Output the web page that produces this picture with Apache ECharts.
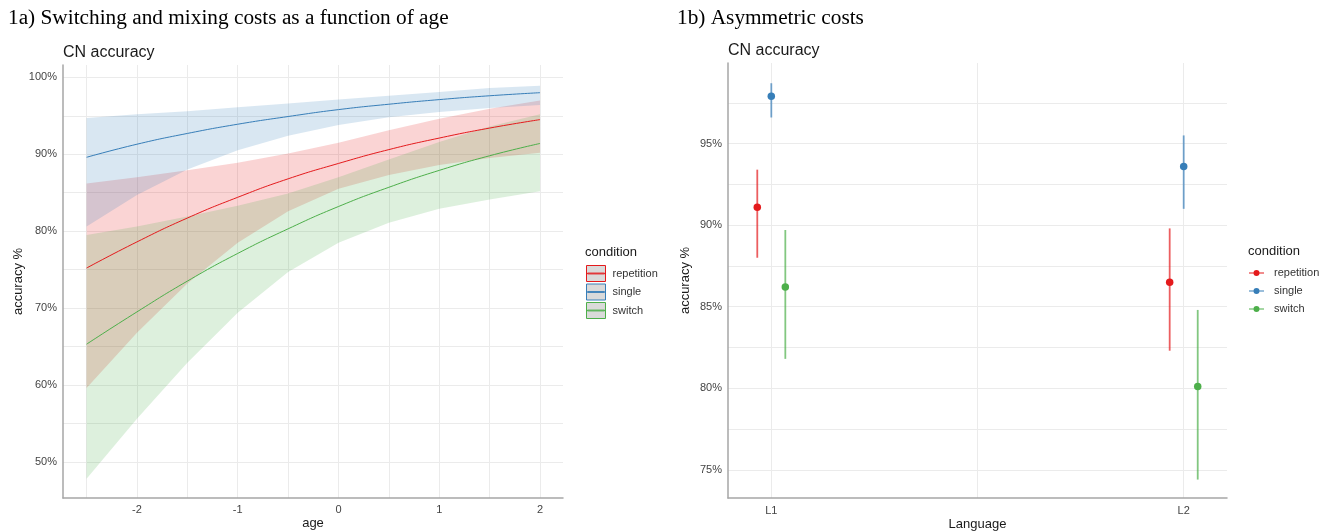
<!DOCTYPE html>
<html>
<head>
<meta charset="utf-8">
<script src="https://cdn.jsdelivr.net/npm/echarts@6/dist/echarts.min.js"></script>
<style>
html,body{margin:0;padding:0;background:#fff;}
#chart{width:1329px;height:532px;}
</style>
</head>
<body>
<div id="chart"></div>
<script>
// ---------- data: panel 1a (model fit by age) ----------
const conditions = ['repetition', 'single', 'switch'];
const ages = [-2.5, -2, -1.5, -1, -0.5, 0, 0.5, 1, 1.5, 2];
const ageTicks = [-2.5, -2, -1.5, -1, -0.5, 0, 0.5, 1, 1.5, 2];
const ageLabels = [-2, -1, 0, 1, 2];
const accTicks = [50, 55, 60, 65, 70, 75, 80, 85, 90, 95, 100];
const accLabels = [50, 60, 70, 80, 90, 100];

const repetitionFit  = [75.2, 78.6, 81.7, 84.4, 86.8, 88.8, 90.6, 92.1, 93.4, 94.5];
const repetitionLow  = [59.6, 66.8, 73.2, 78.5, 82.6, 85.5, 87.3, 88.6, 89.5, 90.2];
const repetitionHigh = [86.2, 87.0, 87.9, 88.9, 90.1, 91.5, 93.1, 94.6, 95.9, 97.0];
const singleFit  = [89.6, 91.3, 92.7, 93.9, 94.9, 95.8, 96.5, 97.1, 97.6, 98.0];
const singleLow  = [80.6, 84.7, 88.0, 90.5, 92.4, 93.8, 94.8, 95.5, 96.0, 96.4];
const singleHigh = [94.7, 95.2, 95.6, 96.1, 96.6, 97.1, 97.6, 98.1, 98.6, 98.9];
const switchFit  = [65.3, 69.5, 73.5, 77.1, 80.3, 83.2, 85.7, 87.9, 89.8, 91.4];
const switchLow  = [47.8, 55.6, 62.9, 69.4, 74.7, 78.5, 81.1, 82.9, 84.1, 85.2];
const switchHigh = [79.5, 80.6, 81.9, 83.3, 84.9, 87.0, 89.3, 91.6, 93.6, 95.2];

// ---------- data: panel 1b (by language) ----------
const languages = ['L1', 'L2'];
const langTicks = [1, 1.5, 2];
const langLabels = [1, 2];
const acc2Ticks = [75, 77.5, 80, 82.5, 85, 87.5, 90, 92.5, 95, 97.5];
const acc2Labels = [75, 80, 85, 90, 95];
const repetitionMean = [91.1, 86.5];
const repetitionLo   = [88.0, 82.3];
const repetitionHi   = [93.4, 89.8];
const singleMean = [97.9, 93.6];
const singleLo   = [96.6, 91.0];
const singleHi   = [98.7, 95.5];
const switchMean = [86.2, 80.1];
const switchLo   = [81.8, 74.4];
const switchHi   = [89.7, 84.8];

// ---------- styling ----------
const colors = ['#e41a1c', '#377eb8', '#4daf4a'];
const FONT = '"Liberation Sans", Arial, sans-serif';
const fits  = [repetitionFit, singleFit, switchFit];
const lows  = [repetitionLow, singleLow, switchLow];
const highs = [repetitionHigh, singleHigh, switchHigh];
const means = [repetitionMean, singleMean, switchMean];
const los   = [repetitionLo, singleLo, switchLo];
const his   = [repetitionHi, singleHi, switchHi];
const dodge = [-0.034, 0, 0.034];

function rgba(hex, a) {
  const n = parseInt(hex.slice(1), 16);
  return 'rgba(' + ((n >> 16) & 255) + ',' + ((n >> 8) & 255) + ',' + (n & 255) + ',' + a + ')';
}

const gridLine = { show: true, lineStyle: { color: '#ebebeb', width: 1 } };
const axLine = { show: true, onZero: false, lineStyle: { color: '#a6a6a6', width: 1.5 } };
const labelStyle = { color: '#444', fontSize: 11, fontFamily: FONT };

const series = [];
// bands
conditions.forEach(function (c, k) {
  const lo = lows[k], hi = highs[k];
  series.push({
    type: 'custom', name: c, xAxisIndex: 0, yAxisIndex: 0, silent: true, z: 1,
    data: ages.map(function (x, i) { return [x, lo[i], hi[i]]; }),
    encode: { x: 0, y: [1, 2] },
    renderItem: function (params, api) {
      if (params.dataIndex !== 0) return null;
      const pts = [];
      for (let i = 0; i < ages.length; i++) pts.push(api.coord([ages[i], hi[i]]));
      for (let i = ages.length - 1; i >= 0; i--) pts.push(api.coord([ages[i], lo[i]]));
      return { type: 'polygon', shape: { points: pts }, style: { fill: rgba(colors[k], 0.19) } };
    }
  });
});
// fitted lines
conditions.forEach(function (c, k) {
  series.push({
    type: 'line', name: c, xAxisIndex: 0, yAxisIndex: 0, silent: true, z: 3,
    data: ages.map(function (x, i) { return [x, fits[k][i]]; }),
    smooth: true, symbol: 'none',
    lineStyle: { color: colors[k], width: 1 }, itemStyle: { color: colors[k] }
  });
});
// error bars panel b
conditions.forEach(function (c, k) {
  series.push({
    type: 'custom', name: c, xAxisIndex: 1, yAxisIndex: 1, silent: true, z: 2,
    data: languages.map(function (l, i) { return [i + 1 + dodge[k], los[k][i], his[k][i]]; }),
    encode: { x: 0, y: [1, 2] },
    renderItem: function (params, api) {
      const a = api.coord([api.value(0), api.value(1)]);
      const b = api.coord([api.value(0), api.value(2)]);
      return { type: 'line', shape: { x1: a[0], y1: a[1], x2: b[0], y2: b[1] },
               style: { stroke: rgba(colors[k], 0.7), lineWidth: 1.8 } };
    }
  });
});
// points panel b
conditions.forEach(function (c, k) {
  series.push({
    type: 'scatter', name: c, xAxisIndex: 1, yAxisIndex: 1, silent: true, z: 4,
    data: languages.map(function (l, i) { return [i + 1 + dodge[k], means[k][i]]; }),
    symbol: 'circle', symbolSize: 7.5,
    itemStyle: { color: colors[k], opacity: 1 }
  });
});

const boxIcon = 'path://M0,0H19V16H0Z M1,7.6H18V8.4H1Z';
const dotIcon = 'path://M0,3.4H15V4.6H0Z M4.5,4A3,3 0 1,1 10.5,4A3,3 0 1,1 4.5,4Z';

const titleText = { fontFamily: FONT, fontSize: 16, fontWeight: 'normal', color: '#1a1a1a' };
const serifText = { fontFamily: '"Liberation Serif", "Times New Roman", serif', fontSize: 21.3, fontWeight: 'normal', color: '#000' };
const legTitle = { fontFamily: FONT, fontSize: 13, fontWeight: 'normal', color: '#1a1a1a' };

const option = {
  animation: false,
  backgroundColor: '#ffffff',
  textStyle: { fontFamily: FONT },
  title: [
    { text: '1a) Switching and mixing costs as a function of age', left: 8, top: 8, padding: 0, textStyle: serifText },
    { text: '1b) Asymmetric costs', left: 677, top: 8, padding: 0, textStyle: serifText },
    { text: 'CN accuracy', left: 63, top: 45, padding: 0, textStyle: titleText },
    { text: 'CN accuracy', left: 728, top: 43, padding: 0, textStyle: titleText },
    { text: 'condition', left: 585, top: 246, padding: 0, textStyle: legTitle },
    { text: 'condition', left: 1248, top: 245, padding: 0, textStyle: legTitle }
  ],
  legend: [
    {
      orient: 'vertical', left: 586, top: 265, itemWidth: 19, itemHeight: 16, itemGap: 1.5,
      selectedMode: false, padding: 0,
      textStyle: { fontSize: 11, color: '#333', fontFamily: FONT, lineHeight: 12, padding: [0, 0, 0, 2] },
      data: conditions.map(function (c, k) {
        return { name: c, icon: boxIcon, itemStyle: { color: '#dadada', borderColor: colors[k], borderWidth: 1, opacity: 1 } };
      })
    },
    {
      orient: 'vertical', left: 1249, top: 267, itemWidth: 15, itemHeight: 6, itemGap: 6,
      selectedMode: false, padding: 0,
      textStyle: { fontSize: 11, color: '#333', fontFamily: FONT, lineHeight: 12, padding: [0, 0, 0, 5] },
      data: conditions.map(function (c, k) {
        return { name: c, icon: dotIcon, itemStyle: { color: colors[k], borderWidth: 0, opacity: 1 } };
      })
    }
  ],
  grid: [
    { left: 63, top: 65, width: 500, height: 433, outerBoundsMode: 'none', containLabel: false },
    { left: 728, top: 63, width: 499, height: 435, outerBoundsMode: 'none', containLabel: false }
  ],
  xAxis: [
    {
      type: 'value', gridIndex: 0, min: -2.734, max: 2.228,
      axisLine: axLine,
      axisTick: { show: false, customValues: ageTicks },
      axisLabel: Object.assign({ customValues: ageLabels, margin: 6, formatter: function (v) { return String(v); } }, labelStyle),
      splitLine: gridLine,
      name: 'age', nameLocation: 'middle', nameGap: 19, nameMoveOverlap: false,
      nameTextStyle: { fontSize: 13, color: '#1a1a1a', fontFamily: FONT }
    },
    {
      type: 'value', gridIndex: 1, min: 0.895, max: 2.105,
      axisLine: axLine,
      axisTick: { show: false, customValues: langTicks },
      axisLabel: Object.assign({ customValues: langLabels, margin: 7, formatter: function (v) { return languages[Math.round(v) - 1] || ''; } }, labelStyle),
      splitLine: gridLine,
      name: 'Language', nameLocation: 'middle', nameGap: 20, nameMoveOverlap: false,
      nameTextStyle: { fontSize: 13, color: '#1a1a1a', fontFamily: FONT }
    }
  ],
  yAxis: [
    {
      type: 'value', gridIndex: 0, min: 45.3, max: 101.6,
      axisLine: axLine,
      axisTick: { show: false, customValues: accTicks },
      axisLabel: Object.assign({ customValues: accLabels, margin: 6, formatter: function (v) { return v + '%'; } }, labelStyle),
      splitLine: gridLine,
      name: 'accuracy %', nameLocation: 'middle', nameGap: 38, nameRotate: 90, nameMoveOverlap: false,
      nameTextStyle: { fontSize: 13, color: '#1a1a1a', fontFamily: FONT }
    },
    {
      type: 'value', gridIndex: 1, min: 73.27, max: 99.94,
      axisLine: axLine,
      axisTick: { show: false, customValues: acc2Ticks },
      axisLabel: Object.assign({ customValues: acc2Labels, margin: 6, formatter: function (v) { return v + '%'; } }, labelStyle),
      splitLine: gridLine,
      name: 'accuracy %', nameLocation: 'middle', nameGap: 36, nameRotate: 90, nameMoveOverlap: false,
      nameTextStyle: { fontSize: 13, color: '#1a1a1a', fontFamily: FONT }
    }
  ],
  series: series
};

const chart = echarts.init(document.getElementById('chart'), null, { renderer: 'canvas' });
chart.setOption(option);
</script>
</body>
</html>
